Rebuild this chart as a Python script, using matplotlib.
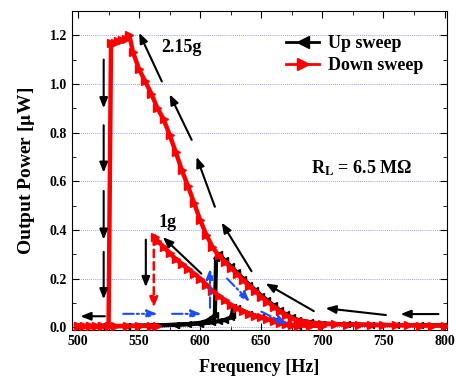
import numpy as np
import matplotlib
matplotlib.use("Agg")
import matplotlib.pyplot as plt
from matplotlib.lines import Line2D

plt.rcParams['font.family'] = ['Liberation Serif', 'DejaVu Serif']
plt.rcParams['mathtext.fontset'] = 'stix'

# ---- data ----
# 2.15g down sweep (red)
down215_f = [500, 505, 510, 515, 520, 525, 527, 530, 533, 536, 539, 542, 545, 550, 555, 560, 565,
             570, 575, 580, 585, 590, 595, 600, 605, 610, 615, 620, 625, 630, 635, 640, 645,
             650, 655, 660, 665, 670, 675, 680, 685, 690, 700, 710, 720, 730, 740, 750, 760,
             770, 780, 790, 800]
down215_p = [0.005, 0.005, 0.005, 0.005, 0.005, 0.005, 1.17, 1.17, 1.175, 1.18, 1.185, 1.20, 1.13,
             1.06, 1.01, 0.96, 0.90, 0.855, 0.79, 0.72, 0.645, 0.58, 0.51, 0.44, 0.38, 0.33, 0.295,
             0.27, 0.245, 0.22, 0.195, 0.17, 0.148, 0.125, 0.105, 0.085, 0.066, 0.049, 0.036,
             0.027, 0.022, 0.018, 0.014, 0.012, 0.011, 0.010, 0.009, 0.009, 0.008, 0.008,
             0.007, 0.007, 0.007]

# 1g down sweep (red)
down1_f = [500, 510, 520, 530, 540, 550, 560, 565, np.nan, 563, 565, 570, 575, 580, 585, 590,
           595, 600, 605, 610, 615, 620, 625, 630, 635, 640, 645, 650, 655, 660, 665, 670,
           675, 680, 690, 700]
down1_p = [0.005, 0.005, 0.005, 0.005, 0.005, 0.005, 0.005, 0.005, np.nan, 0.37, 0.355, 0.33,
           0.305, 0.28, 0.26, 0.24, 0.22, 0.20, 0.175, 0.15, 0.13, 0.11, 0.093, 0.079, 0.067,
           0.056, 0.047, 0.040, 0.033, 0.025, 0.018, 0.012, 0.009, 0.007, 0.006, 0.006]

# 2.15g up sweep (black)
up215_f = [500, 520, 540, 560, 580, 590, 600, 605, 610, 612, 613, 615, 620, 625, 630, 635, 640,
           645, 650, 655, 660, 665, 670, 675, 680, 690, 700, 720, 740, 760, 780, 800]
up215_p = [0.003, 0.004, 0.005, 0.007, 0.010, 0.013, 0.018, 0.025, 0.04, 0.05, 0.285, 0.30,
           0.275, 0.25, 0.225, 0.20, 0.175, 0.153, 0.13, 0.11, 0.09, 0.07, 0.053, 0.04, 0.03,
           0.02, 0.015, 0.012, 0.010, 0.009, 0.008, 0.008]

# 1g up sweep (black)
up1_f = [500, 520, 540, 560, 580, 600, 610, 615, 620, 625, 626, 627, 630, 640, 650, 660, 670, 680]
up1_p = [0.003, 0.004, 0.005, 0.007, 0.010, 0.015, 0.020, 0.025, 0.03, 0.04, 0.05, 0.085, 0.078,
         0.056, 0.040, 0.025, 0.012, 0.007]

x_ticks = [500, 550, 600, 650, 700, 750, 800]
y_ticks = [0.0, 0.2, 0.4, 0.6, 0.8, 1.0, 1.2]

# ---- figure ----
fig = plt.figure(figsize=(4.58, 3.76), dpi=100)
ax = fig.add_axes([0.157, 0.122, 0.819, 0.849])

red = '#ff0000'
blue = '#1a4dff'

ax.plot(up215_f, up215_p, color='k', lw=3.0, marker='<', ms=4.5, zorder=2)
ax.plot(up1_f, up1_p, color='k', lw=3.0, marker='<', ms=4.5, zorder=2)
ax.plot(down215_f, down215_p, color=red, lw=3.2, marker='>', ms=5.5, zorder=3)
ax.plot(down1_f, down1_p, color=red, lw=3.2, marker='>', ms=5.5, zorder=3)

ax.set_xlim(495, 802)
ax.set_ylim(-0.012, 1.3)
ax.set_xticks(x_ticks)
ax.set_yticks(y_ticks)
ax.set_xticks(np.arange(500, 801, 25), minor=True)
ax.set_yticks(np.arange(0.0, 1.3, 0.1), minor=True)
ax.set_yticklabels([f'{v:.1f}' for v in y_ticks])
ax.tick_params(which='both', direction='in', top=True, right=True, labelsize=10)
ax.tick_params(which='major', length=5)
ax.tick_params(which='minor', length=3)
for lab in ax.get_xticklabels() + ax.get_yticklabels():
    lab.set_fontweight('bold')
ax.yaxis.grid(True, linestyle=(0, (1, 1.5)), color='#7a7aff', lw=0.6)
ax.set_axisbelow(True)

ax.set_xlabel('Frequency [Hz]', fontsize=13, fontweight='bold', labelpad=8)
ax.set_ylabel(r'Output Power [$\mathbf{\mu}$W]', fontsize=14, fontweight='bold', labelpad=9)

# annotation arrows (black)
black_arrows = [
    ((521, 1.10), (521, 0.90)), ((521, 0.83), (521, 0.635)),
    ((521, 0.56), (521, 0.36)), ((521, 0.31), (521, 0.115)),
    ((555.5, 0.36), (555.5, 0.165)),
    ((522, 0.045), (502, 0.045)),
    ((568.6, 1.01), (550, 1.21)), ((593, 0.77), (575, 0.957)),
    ((612, 0.495), (597, 0.70)), ((642, 0.23), (617.6, 0.43)),
    ((693, 0.066), (653.6, 0.18)), ((752, 0.05), (702.6, 0.078)),
    ((795, 0.054), (764, 0.054)),
    ((601, 0.22), (569.5, 0.37)),
]
for tail, head in black_arrows:
    ax.annotate('', xy=head, xytext=tail,
                arrowprops=dict(arrowstyle='-|>,head_length=0.5,head_width=0.2', color='k',
                                lw=1.5, mutation_scale=12, shrinkA=0, shrinkB=0), zorder=5)

blue_arrows = [
    ((537, 0.055), (565, 0.055)), ((577, 0.055), (601, 0.055)),
    ((608, 0.08), (608, 0.24)),
    ((622, 0.20), (640.5, 0.105)), ((650, 0.064), (671, 0.012)),
]
for tail, head in blue_arrows:
    ax.annotate('', xy=head, xytext=tail,
                arrowprops=dict(arrowstyle='-|>,head_length=0.5,head_width=0.2', color=blue,
                                lw=1.5, ls=(0, (5, 1.5, 1, 1.5, 1, 1.5)),
                                mutation_scale=12, shrinkA=0, shrinkB=0), zorder=5)
ax.annotate('', xy=(562, 0.08), xytext=(562, 0.37),
            arrowprops=dict(arrowstyle='-|>,head_length=0.5,head_width=0.2', color=red, lw=1.8,
                            ls=(0, (3, 2)), mutation_scale=12, shrinkA=0, shrinkB=0), zorder=5)

ax.text(585, 1.15, '2.15g', fontsize=13, fontweight='bold', ha='center', va='center')
ax.text(573, 0.43, '1g', fontsize=13, fontweight='bold', ha='center', va='center')
ax.text(732, 0.655, r'R$_\mathbf{L}$ = 6.5 MΩ', fontsize=13, fontweight='bold',
        ha='center', va='center')

handles = [Line2D([], [], color='k', lw=2, marker='<', ms=9),
           Line2D([], [], color=red, lw=2, marker='>', ms=9)]
leg = ax.legend(handles, ['Up sweep', 'Down sweep'], loc='upper right',
                bbox_to_anchor=(0.972, 0.963), frameon=False, handlelength=1.85,
                prop={'weight': 'bold', 'size': 13}, markerscale=1.0, numpoints=1,
                labelspacing=0.28, handletextpad=0.5, borderpad=0.2)

fig.savefig('out.png', dpi=100)
